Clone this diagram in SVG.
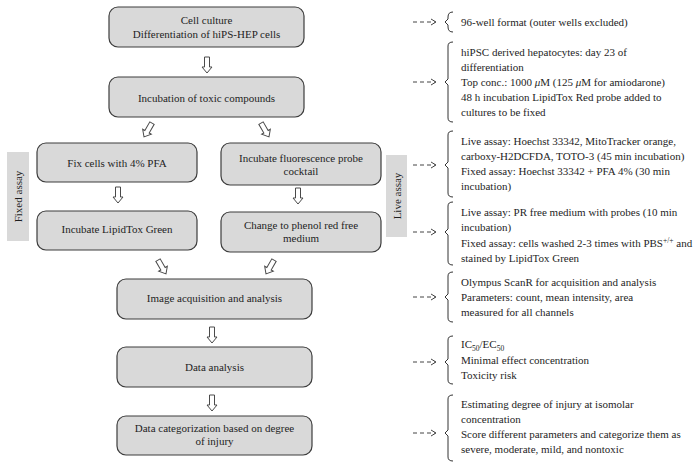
<svg xmlns="http://www.w3.org/2000/svg" xmlns:xlink="http://www.w3.org/1999/xlink" width="698" height="474" viewBox="0 0 698 474">
<style>
text{font-family:"Liberation Serif","Times New Roman",serif;font-size:11px;fill:#1e1e1e}
.box{fill:#d9d9d9;stroke:#3c3c3c;stroke-width:1.2}
.lab{fill:#d9d9d9}
.c{text-anchor:middle}
.ha{fill:#fff;stroke:#4a4a4a;stroke-width:1}
.dash{fill:none;stroke:#444;stroke-width:1;stroke-dasharray:4 3}
.head{fill:none;stroke:#444;stroke-width:1}
.br{fill:none;stroke:#333;stroke-width:1}
</style>
<defs>
<path id="ha" d="M-2.5,-8 H2.5 V2 H5 L0,8 L-5,2 H-2.5 Z"/>
</defs>
<rect width="698" height="474" fill="#fff"/>

<g id="n1"><rect class="box" x="109" y="7" width="195" height="40" rx="9"/>
<text class="c" x="206.5" y="24">Cell culture</text>
<text class="c" x="206.5" y="38">Differentiation of hiPS-HEP cells</text></g>
<g id="n2"><rect class="box" x="109" y="77" width="195" height="40" rx="9"/>
<text class="c" x="206.5" y="102">Incubation of toxic compounds</text></g>
<g id="n3"><rect class="box" x="37" y="143" width="160" height="39" rx="9"/>
<text class="c" x="117" y="167">Fix cells with 4% PFA</text></g>
<g id="n4"><rect class="box" x="221" y="143" width="160" height="42" rx="9"/>
<text class="c" x="301" y="162">Incubate fluorescence probe</text>
<text class="c" x="301" y="175">cocktail</text></g>
<g id="n5"><rect class="box" x="37" y="211" width="160" height="39" rx="9"/>
<text class="c" x="117" y="233">Incubate LipidTox Green</text></g>
<g id="n6"><rect class="box" x="221" y="212" width="160" height="40" rx="9"/>
<text class="c" x="301" y="229">Change to phenol red free</text>
<text class="c" x="301" y="242">medium</text></g>
<g id="n7"><rect class="box" x="117" y="279" width="195" height="40" rx="9"/>
<text class="c" x="214.5" y="302">Image acquisition and analysis</text></g>
<g id="n8"><rect class="box" x="117" y="347" width="195" height="40" rx="9"/>
<text class="c" x="214.5" y="371">Data analysis</text></g>
<g id="n9"><rect class="box" x="117" y="416" width="195" height="39" rx="9"/>
<text class="c" x="214.5" y="432">Data categorization based on degree</text>
<text class="c" x="214.5" y="445">of injury</text></g>

<g id="fixed-label"><rect class="lab" x="7" y="152" width="22" height="89"/>
<text class="c" transform="translate(22,196.5) rotate(-90)">Fixed assay</text></g>
<g id="live-label"><rect class="lab" x="386" y="155" width="21" height="82"/>
<text class="c" transform="translate(400.5,196) rotate(-90)">Live assay</text></g>

<g id="connectors">
<use href="#ha" class="ha" transform="translate(207,65)"/>
<use href="#ha" class="ha" transform="translate(148,130) rotate(30)"/>
<use href="#ha" class="ha" transform="translate(265,130) rotate(-30)"/>
<use href="#ha" class="ha" transform="translate(118,195)"/>
<use href="#ha" class="ha" transform="translate(298,196)"/>
<use href="#ha" class="ha" transform="translate(162,267) rotate(-30)"/>
<use href="#ha" class="ha" transform="translate(270,267) rotate(30)"/>
<use href="#ha" class="ha" transform="translate(212,335)"/>
<use href="#ha" class="ha" transform="translate(212,403)"/>

<path class="dash" d="M413,22 H435"/><path class="head" d="M431,19 L436,22 L431,25"/>
<path class="dash" d="M413,82 H435"/><path class="head" d="M431,79 L436,82 L431,85"/>
<path class="dash" d="M413,165 H435"/><path class="head" d="M431,162 L436,165 L431,168"/>
<path class="dash" d="M413,232 H435"/><path class="head" d="M431,229 L436,232 L431,235"/>
<path class="dash" d="M413,297 H435"/><path class="head" d="M431,294 L436,297 L431,300"/>
<path class="dash" d="M413,362 H435"/><path class="head" d="M431,359 L436,362 L431,365"/>
<path class="dash" d="M413,433 H435"/><path class="head" d="M431,430 L436,433 L431,436"/>

<path class="br" d="M453,12 Q448,12 448,17 V19 L445,22 L448,25 V27 Q448,32 453,32"/>
<path class="br" d="M453,42 Q448,42 448,46 V79 L445,82 L448,85 V118 Q448,122 453,122"/>
<path class="br" d="M453,131 Q448,131 448,135 V162 L445,165 L448,168 V193 Q448,197 453,197"/>
<path class="br" d="M453,202 Q448,202 448,206 V229 L445,232 L448,235 V261 Q448,265 453,265"/>
<path class="br" d="M453,272 Q448,272 448,276 V294 L445,297 L448,300 V318 Q448,322 453,322"/>
<path class="br" d="M453,336 Q448,336 448,340 V359 L445,362 L448,365 V380 Q448,384 453,384"/>
<path class="br" d="M453,395 Q448,395 448,399 V430 L445,433 L448,436 V457 Q448,461 453,461"/>
</g>

<g id="notes">
<text x="461" y="26">96-well format (outer wells excluded)</text>
<text x="461" y="56">hiPSC derived hepatocytes: day 23 of</text>
<text x="461" y="71">differentiation</text>
<text x="461" y="86">Top conc.: 1000 <tspan font-style="italic">μ</tspan>M (125 <tspan font-style="italic">μ</tspan>M for amiodarone)</text>
<text x="461" y="101">48 h incubation LipidTox Red probe added to</text>
<text x="461" y="116">cultures to be fixed</text>
<text x="461" y="145">Live assay: Hoechst 33342, MitoTracker orange,</text>
<text x="461" y="160">carboxy-H2DCFDA, TOTO-3 (45 min incubation)</text>
<text x="461" y="175">Fixed assay: Hoechst 33342 + PFA 4% (30 min</text>
<text x="461" y="190">incubation)</text>
<text x="461" y="216">Live assay: PR free medium with probes (10 min</text>
<text x="461" y="231">incubation)</text>
<text x="461" y="247">Fixed assay: cells washed 2-3 times with PBS<tspan font-size="7.5" dy="-4">+/+</tspan><tspan dy="4"> and</tspan></text>
<text x="461" y="262">stained by LipidTox Green</text>
<text x="461" y="286">Olympus ScanR for acquisition and analysis</text>
<text x="461" y="301">Parameters: count, mean intensity, area</text>
<text x="461" y="316">measured for all channels</text>
<text x="461" y="348">IC<tspan font-size="7.5" dy="2.5">50</tspan><tspan dy="-2.5">/EC</tspan><tspan font-size="7.5" dy="2.5">50</tspan></text>
<text x="461" y="364">Minimal effect concentration</text>
<text x="461" y="379">Toxicity risk</text>
<text x="461" y="408">Estimating degree of injury at isomolar</text>
<text x="461" y="423">concentration</text>
<text x="461" y="438">Score different parameters and categorize them as</text>
<text x="461" y="453">severe, moderate, mild, and nontoxic</text>
</g>
</svg>
